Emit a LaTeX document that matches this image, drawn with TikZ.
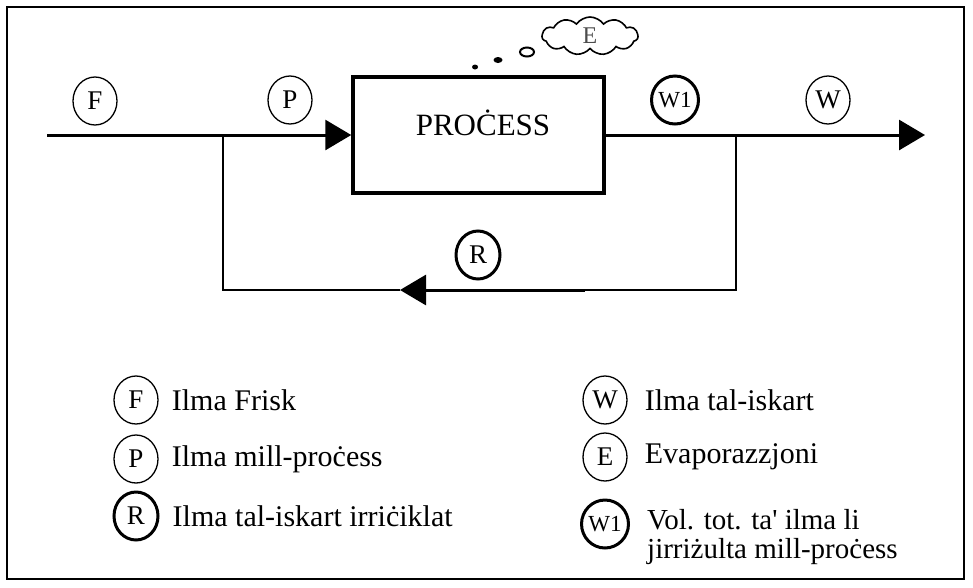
\documentclass[tikz,border=0pt]{standalone}
\usepackage{fontspec}
\setmainfont{Liberation Serif}
\usetikzlibrary{arrows.meta,positioning,shapes.geometric,shapes.symbols}
\tikzset{
    every picture/.style={line join=miter},
    tag/.style={draw=black,ellipse,line width=1.3pt,minimum width=44pt,
      minimum height=48pt,inner sep=0pt,font=\fontsize{27}{27}\selectfont},
    boldtag/.style={tag,line width=3pt},
    procbox/.style={draw=black,line width=3.5pt,minimum width=251pt,
      minimum height=116pt,inner sep=0pt},
    flow/.style={draw=black,line width=3pt},
    branch/.style={draw=black,line width=2.2pt},
    flowarrow/.style={flow,-{Triangle[length=26pt,width=30pt]}},
    legtext/.style={inner sep=1pt,anchor=west,align=left,
      font=\fontsize{30}{27}\selectfont},
    bubble/.style={draw=black,ellipse,line width=2pt,inner sep=0pt}
}

\begin{document}
\begin{tikzpicture}[x=1pt,y=-1pt]
  \useasboundingbox (0,0) rectangle (973,587);
  \draw[line width=2.2pt] (7,7) rectangle (964,579);

  \node[procbox] (proc) at (478.5,135) {};
  \node[font=\fontsize{31}{31}\selectfont] (proclbl) at (483,123) {PROĊESS};

  \coordinate (fin) at (47,135);
  \coordinate (jl) at (223,135);
  \coordinate (jr) at (736,135);
  \coordinate (fout) at (925,135);
  \coordinate (bl) at (223,290);
  \coordinate (br) at (736,290);
  \coordinate (rthick) at (585,290);
  \coordinate (rtip) at (400,290);

  \draw[flow] (fin) -- (jl);
  \draw[flowarrow] (jl) -- (proc.west);
  \draw[flow] (proc.east) -- (jr);
  \draw[flowarrow] (jr) -- (fout);
  \draw[branch] (jr) -- (br) -- (rthick);
  \draw[flowarrow] (rthick) -- (rtip);
  \draw[branch] (rtip) -- (bl) -- (jl);

  \node[tag] (tF) at (95,101) {F};
  \node[tag] (tP) at (290,100) {P};
  \node[boldtag,font=\fontsize{23}{23}\selectfont] (tW1) at (675,100) {W1};
  \node[tag] (tW) at (828,100) {W};
  \node[boldtag] (tR) at (478,255) {R};

  \node[cloud,draw=black,line width=1.6pt,cloud puffs=11,cloud puff arc=110,
    minimum width=96pt,minimum height=38pt,inner sep=0pt,
    font=\fontsize{24}{24}\selectfont,text=black!70] (evap) at (590,36) {E};
  \fill (475,67) ellipse (3pt and 2.5pt);
  \fill (498,60) ellipse (4.5pt and 3pt);
  \draw[line width=2pt] (527,52) ellipse (7pt and 4.5pt);

  \node[tag] (lF) at (136,400) {F};
  \node[legtext,right=12pt of lF] (lFtxt) {Ilma Frisk};
  \node[tag] (lP) at (136,459) {P};
  \node[legtext,right=12pt of lP] (lPtxt) {Ilma mill-proċess};
  \node[boldtag] (lR) at (136,516) {R};
  \node[legtext,right=12pt of lR] (lRtxt) {Ilma tal-iskart irriċiklat};

  \node[tag] (lW) at (605,400) {W};
  \node[legtext,right=16pt of lW] (lWtxt) {Ilma tal-iskart};
  \node[tag] (lE) at (605,457) {E};
  \node[legtext,right=16pt of lE] (lEtxt) {Evaporazzjoni};
  \node[boldtag,font=\fontsize{23}{23}\selectfont] (lW1) at (605,524) {W1};
  \node[legtext,right=16pt of lW1,yshift=-13pt,
    font=\fontsize{29}{29}\selectfont] (lW1txt)
    {Vol. tot. ta\textquotesingle{} ilma li\\jirriżulta mill-proċess};
\end{tikzpicture}
\end{document}
